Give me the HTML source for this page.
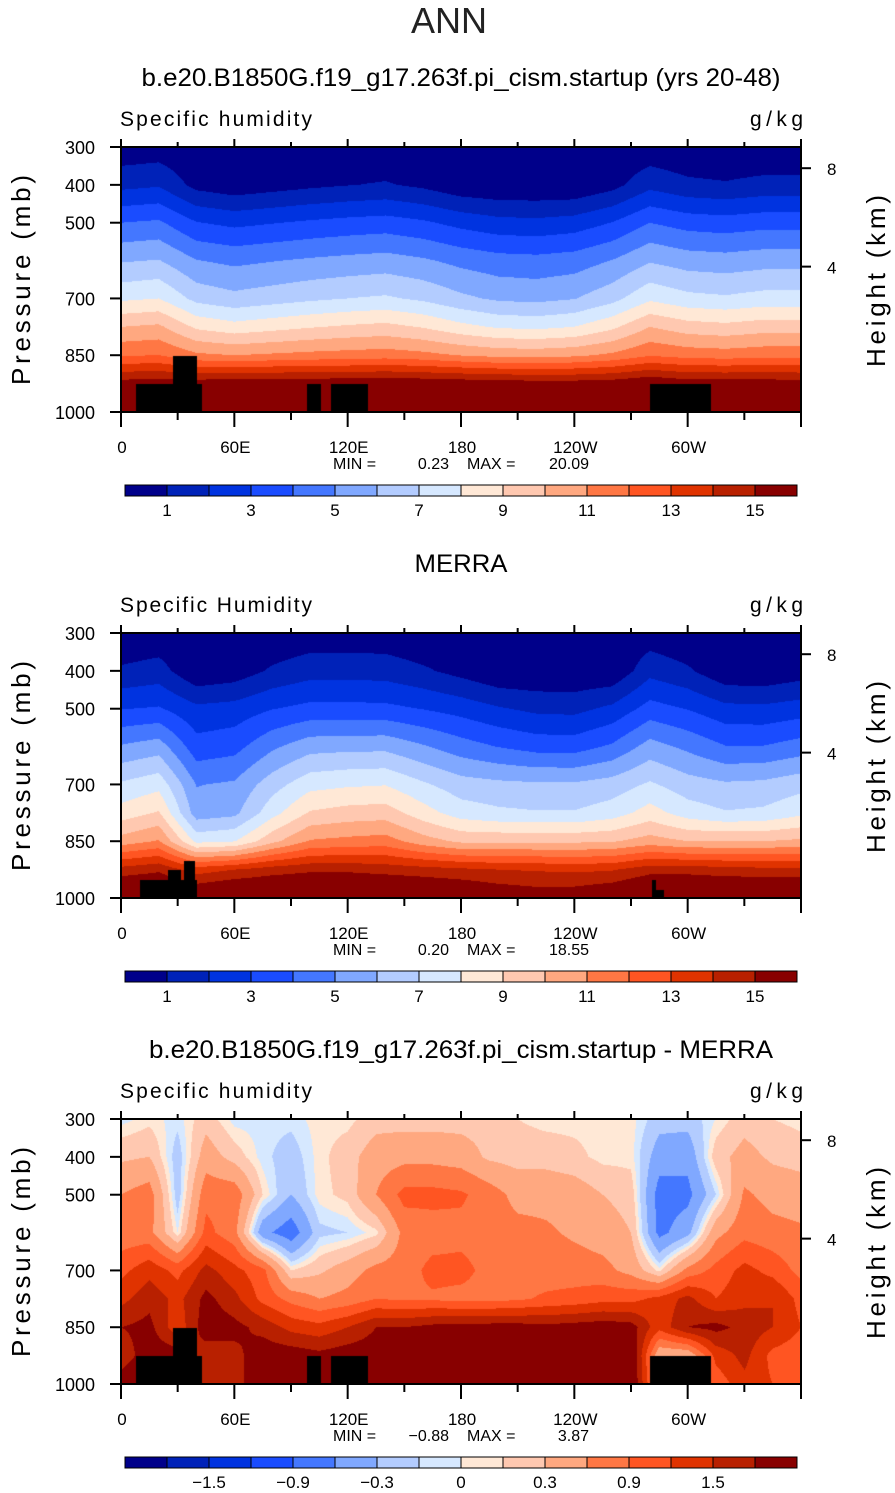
<!DOCTYPE html>
<html><head><meta charset="utf-8">
<style>
html,body{margin:0;padding:0;background:#fff;}
#wrap{position:relative;width:895px;height:1493px;overflow:hidden;font-family:"Liberation Sans",sans-serif;}
canvas{position:absolute;left:121px;width:680px;height:265px;}
svg{position:absolute;left:0;top:0;}
</style></head>
<body>
<div id="wrap">
<canvas id="c1" width="680" height="265" style="top:147px"></canvas>
<canvas id="c2" width="680" height="265" style="top:633px"></canvas>
<canvas id="c3" width="680" height="265" style="top:1119px"></canvas>
<svg id="ov" width="895" height="1493">
<text x="449" y="33" font-size="36" text-anchor="middle" font-family="Liberation Sans, sans-serif" fill="#222">ANN</text>
</svg>
</div>
<script>
// ---- data ----
const lons20 = [0,20,40,60,80,100,120,140,160,180,200,220,240,260,280,300,320,340,360];
const lons15 = [0,15,30,45,60,75,90,105,120,135,150,165,180,195,210,225,240,255,270,285,300,315,330,345,360];
const pres = [300,400,500,600,700,775,850,925,1000];
const qLevels = [1,2,3,4,5,6,7,8,9,10,11,12,13,14,15];
const dLevels = [-1.8,-1.5,-1.2,-0.9,-0.6,-0.3,-0.1,0,0.1,0.3,0.6,0.9,1.2,1.5,1.8];
const palette = ["#00008a","#0022b8","#0033e0","#1a4cff","#4477ff","#80a8ff","#b3ccff","#d6e8ff","#ffe8d6","#ffc8b0","#ffa880","#ff7744","#ff5522","#e03300","#b82000","#880000"];
const qTickLabels = ["1","3","5","7","9","11","13","15"];
const dTickLabels = ["\u22121.5","\u22120.9","\u22120.3","0","0.3","0.9","1.5"];
const lonTickLabels = ["0","60E","120E","180","120W","60W"];
const presTicks = [300,400,500,700,850,1000];
const heightTicks = [{km:8,p:356},{km:4,p:616}];

const model300 = [0.3,0.4,0.1,0.1,0.1,0.1,0.1,0.1,0.1,0.1,0.1,0.1,0.1,0.1,0.3,0.1,0.1,0.1,0.1];
const model400 = [1.7,1.88,0.66,0.32,0.55,0.78,0.96,1.1,0.78,0.25,0.1,0.1,0.1,0.64,1.7,1.24,1.1,1.31,1.31];
const model500 = [4.0,4.17,3.05,2.74,2.95,3.16,3.33,3.45,3.16,2.68,2.34,2.26,2.45,3.03,4.0,3.58,3.45,3.64,3.64];
const model600 = [5.9,6.05,5.04,4.76,4.95,5.14,5.29,5.41,5.14,4.7,4.4,4.32,4.49,5.03,5.9,5.52,5.41,5.58,5.58];
const model700 = [7.8,8.0,6.67,6.3,6.55,6.8,7.0,7.15,6.8,6.22,5.82,5.72,5.95,6.65,7.8,7.3,7.15,7.38,7.38];
const model775 = [10,10.2,8.8,8.38,8.65,8.92,9.14,9.3,8.92,8.3,7.87,7.76,8.0,8.76,10,9.46,9.3,9.54,9.54];
const model850 = [11.9,12.0,11.2,11.0,11.15,11.3,11.4,11.5,11.3,10.95,10.7,10.65,10.8,11.2,11.9,11.6,11.5,11.65,11.65];
const model925 = [15.5,15.6,15.6,15.8,15.8,15.8,15.8,15.9,15.8,15.7,15.6,15.5,15.5,15.6,16,15.6,15.6,15.6,15.5];
const model1000 = [18,18,18,18,18,18,18,18,18,18,18,18,18,18,18,18,18,18,18];

const merra300 = [0.1,0.25,0.1,0.1,0.1,0.35,0.35,0.33,0.1,0.1,0.1,0.1,0.1,0.1,0.4,0.1,0.1,0.1,0.1];
const merra400 = [1.16,1.42,0.14,0.4,1.16,1.59,1.59,1.55,1.16,0.65,0.1,0.1,0.1,0.14,1.67,1.16,0.22,0.14,0.48];
const merra500 = [2.96,3.1,2.24,2.4,2.96,3.3,3.3,3.26,2.96,2.6,2.1,1.76,1.7,2.24,3.4,2.96,2.3,2.24,2.5];
const merra600 = [5.1,5.5,3.4,3.64,4.8,5.6,5.7,5.72,5.1,4.44,3.96,3.6,3.56,4.16,5.4,4.76,4.04,4.04,4.44];
const merra700 = [7.15,7.65,4.95,5.15,6.55,7.65,7.85,7.95,7.15,6.45,6.25,6.15,6.15,6.45,7.15,6.45,6.15,6.25,6.65];
const merra775 = [8.43,9.1,5.46,5.73,7.62,9.1,9.4,9.5,8.43,7.5,7.2,7.08,7.08,7.5,8.43,7.5,7.08,7.2,7.76];
const merra850 = [10.45,11.1,7.7,7.95,9.7,11.1,11.3,11.45,10.45,9.8,9.8,9.8,9.8,9.9,10.45,10.0,10.0,10.0,10.2];
const merra925 = [14.4,14.8,13.5,14,14.5,14.8,14.8,14.6,14.4,14.2,14,13.9,13.8,13.9,14.6,14.6,14.4,14.3,14.3];
const merra1000 = [17,17,16.5,17,17,17,17,17,16.8,16.5,16,15.7,15.8,16.3,17,17,17,17,17];

const diff300 = [-0.05,0.05,-0.05,0.2,-0.05,-0.05,-0.05,0.05,0.05,0.2,0.2,0.2,0.2,0.2,0.1,0.05,0.05,0.05,0.05,-0.2,-0.2,0.0,0.2,0.1,0.05];
const diff400 = [0.25,0.3,-0.2,0.45,0.2,-0.05,-0.2,0.05,0.2,0.45,0.5,0.5,0.45,0.25,0.2,0.2,0.15,0.05,0.05,-0.45,-0.5,0.2,0.4,0.25,0.2];
const diff500 = [0.6,0.75,-0.2,0.8,0.8,0.1,-0.3,0.05,0.15,0.6,1.0,1.0,0.95,0.75,0.5,0.5,0.45,0.3,0.2,-0.75,-0.7,-0.1,0.65,0.5,0.45];
const diff600 = [0.7,0.7,0.0,1.0,0.7,-0.5,-0.8,-0.15,-0.1,0.05,0.7,0.75,0.8,0.75,0.7,0.65,0.55,0.45,0.3,-0.7,-0.4,0.5,0.8,0.7,0.65];
const diff700 = [1.1,1.4,1.1,1.6,1.3,1.0,0.1,0.25,0.45,0.7,0.75,1.0,1.0,0.8,0.75,0.75,0.75,0.7,0.5,0.05,0.7,1.0,1.3,1.1,0.8];
const diff775 = [1.4,1.7,1.4,1.9,1.6,1.1,0.8,0.6,0.7,0.9,0.85,0.85,0.8,0.8,0.85,0.95,1.0,1.1,1.1,1.3,1.6,1.2,1.4,1.5,1.1];
const diff850 = [1.8,1.9,1.3,2.0,1.9,1.7,1.4,1.3,1.5,1.8,1.8,1.9,1.95,1.95,1.95,1.9,1.95,2.0,1.95,1.3,1.8,1.9,1.7,1.5,1.2];
const diff925 = [1.6,2.0,2.0,1.6,1.7,2.0,2.0,1.9,2.0,2.0,2.2,2.2,2.2,2.2,2.2,2.2,2.2,2.2,2.2,0.3,0.3,1.3,1.6,1.1,1.0];
const diff1000 = [2.0,2.2,2.2,1.6,1.6,2.2,2.2,2.2,2.2,2.2,2.2,2.2,2.2,2.2,2.2,2.2,2.2,2.2,2.2,0.5,0.5,1.0,1.4,1.2,1.1];

// topography masks: [lonStart, lonEnd, pressureTop]
const topoModel = [[7.9,42.9,926],[27.5,40.2,852],[98.5,105.9,926],[111.2,130.8,926],[280,312.4,926]];
const topoMerra = [[10,40.2,952],[24.9,31.8,926],[33.4,39.2,902],[281,287.5,979],[281,283,952]];

// ---- scales ----
const PX0 = 121, PW = 680, PH = 265;
function xOfLon(lon){ return lon/360*PW; }
function yOfP(p){ return (p-300)/700*PH; }
function lonOfX(x){ return x/PW*360; }
function pOfY(y){ return 300 + y/PH*700; }

function drawField(id, lons, rows, levels, topo){
  const cv = document.getElementById(id), ctx = cv.getContext('2d');
  const img = ctx.createImageData(PW, PH);
  const rgb = palette.map(h=>[parseInt(h.substr(1,2),16),parseInt(h.substr(3,2),16),parseInt(h.substr(5,2),16)]);
  for(let y=0;y<PH;y++){
    const p = pOfY(y+0.5);
    let j=0; while(j<pres.length-2 && p>pres[j+1]) j++;
    const ty = Math.min(1,Math.max(0,(p-pres[j])/(pres[j+1]-pres[j])));
    for(let x=0;x<PW;x++){
      const lon = lonOfX(x+0.5);
      let i=0; while(i<lons.length-2 && lon>lons[i+1]) i++;
      const tx = Math.min(1,Math.max(0,(lon-lons[i])/(lons[i+1]-lons[i])));
      const a = rows[j][i]*(1-tx)+rows[j][i+1]*tx;
      const b = rows[j+1][i]*(1-tx)+rows[j+1][i+1]*tx;
      const v = a*(1-ty)+b*ty;
      let k=0; while(k<levels.length && v>=levels[k]) k++;
      const c = rgb[k], o=(y*PW+x)*4;
      img.data[o]=c[0];img.data[o+1]=c[1];img.data[o+2]=c[2];img.data[o+3]=255;
    }
  }
  ctx.putImageData(img,0,0);
  ctx.fillStyle="#000";
  topo.forEach(t=>{
    const x0=xOfLon(t[0]), x1=xOfLon(t[1]), y0=yOfP(t[2]);
    ctx.fillRect(Math.round(x0),Math.round(y0),Math.round(x1-x0),PH-Math.round(y0));
  });
}
drawField('c1', lons20, [model300,model400,model500,model600,model700,model775,model850,model925,model1000], qLevels, topoModel);
drawField('c2', lons20, [merra300,merra400,merra500,merra600,merra700,merra775,merra850,merra925,merra1000], qLevels, topoMerra);
drawField('c3', lons15, [diff300,diff400,diff500,diff600,diff700,diff775,diff850,diff925,diff1000], dLevels, topoModel);

// ---- annotations ----
const NS="http://www.w3.org/2000/svg";
const ov=document.getElementById('ov');
function mk(tag, attrs, parent){
  const e=document.createElementNS(NS,tag);
  for(const k in attrs) e.setAttribute(k,attrs[k]);
  (parent||ov).appendChild(e); return e;
}
function txt(x,y,s,size,anchor,parent){
  const t=mk('text',{x:x,y:y,'font-size':size,'text-anchor':anchor||'start','font-family':'Liberation Sans, sans-serif',fill:'#000'},parent);
  t.textContent=s; return t;
}
const panels=[
  {off:0,title:"b.e20.B1850G.f19_g17.263f.pi_cism.startup (yrs 20-48)",tw:639,var:"Specific humidity",min:"0.23",max:"20.09",ticks:qTickLabels,tickStart:1,tickStep:2},
  {off:486,title:"MERRA",tw:93,var:"Specific Humidity",min:"0.20",max:"18.55",ticks:qTickLabels,tickStart:1,tickStep:2},
  {off:972,title:"b.e20.B1850G.f19_g17.263f.pi_cism.startup - MERRA",tw:624,var:"Specific humidity",min:"\u22120.88",max:"3.87",ticks:dTickLabels,tickStart:2,tickStep:2}
];
panels.forEach((P,pi)=>{
  const g=mk('g',{});
  
  
  const top=147+P.off;
  const t=txt(461,86+P.off,P.title,25,'middle',g);
  t.setAttribute('textLength',P.tw);
  t.setAttribute('lengthAdjust','spacingAndGlyphs');
  
  
  const v=txt(120,126+P.off,P.var,21,'start',g);
  v.setAttribute('textLength',192);
  v.setAttribute('lengthAdjust','spacing');
  
  
  const u=txt(750,126+P.off,"g/kg",21,'start',g);
  u.setAttribute('textLength',53);
  u.setAttribute('lengthAdjust','spacing');
  
  
  const fr=mk('rect',{x:PX0,y:top,width:PW,height:PH,fill:'none',stroke:'#000','stroke-width':2},g);
  
  
  for(let lon=0;lon<=360;lon+=30){
    const x=PX0+xOfLon(lon), len=(lon%60===0)?15:8;
    mk('line',{x1:x,y1:top+PH,x2:x,y2:top+PH+len,stroke:'#000','stroke-width':2},g);
    mk('line',{x1:x,y1:top,x2:x,y2:top-(lon%60===0?8:5),stroke:'#000','stroke-width':2},g);
  }
  lonTickLabels.forEach((s,i)=>{
    const l=txt(PX0+xOfLon(i*60)+1,top+PH+41,s,17,'middle',g);
    
    
  });
  presTicks.forEach(p=>{
    const y=top+yOfP(p);
    mk('line',{x1:PX0-11,y1:y,x2:PX0,y2:y,stroke:'#000','stroke-width':2},g);
    const l=txt(95,y+7,String(p),18,'end',g);
    
    
  });
  heightTicks.forEach(h=>{
    const y=top+yOfP(h.p);
    mk('line',{x1:PX0+PW,y1:y,x2:PX0+PW+10,y2:y,stroke:'#000','stroke-width':2},g);
    const l=txt(827,y+7,String(h.km),17,'start',g);
    
    
  });
  const ya=txt(0,0,"Pressure (mb)",26,'middle',g);
  ya.setAttribute('transform','translate(30,'+(280+P.off)+') rotate(-90)');
  ya.setAttribute('textLength',210);
  ya.setAttribute('lengthAdjust','spacing');
  
  
  const ha=txt(0,0,"Height (km)",26,'middle',g);
  ha.setAttribute('transform','translate(885,'+(281+P.off)+') rotate(-90)');
  ha.setAttribute('textLength',172);
  ha.setAttribute('lengthAdjust','spacing');
  
  
  const mm=txt(333,469+P.off,"MIN = ",16,'start',g);
  
  
  const mv=txt(449,469+P.off,P.min,16,'end',g);
  
  
  const xm=txt(467,469+P.off,"MAX = ",16,'start',g);
  
  
  const xv=txt(589,469+P.off,P.max,16,'end',g);
  
  
  const cb=mk('g',{},g);
  
  
  const bw=672/palette.length, cy=485+P.off;
  palette.forEach((c,k)=>{
    const r=mk('rect',{x:125+k*bw,y:cy,width:bw,height:11,fill:c,stroke:'#000','stroke-width':1},cb);
    
    
  });
  P.ticks.forEach((s,i)=>{
    const k=P.tickStart+i*P.tickStep;
    const l=txt(125+k*bw,cy+31,s,17,'middle',cb);
    
    
  });
});
</script>
</body></html>
